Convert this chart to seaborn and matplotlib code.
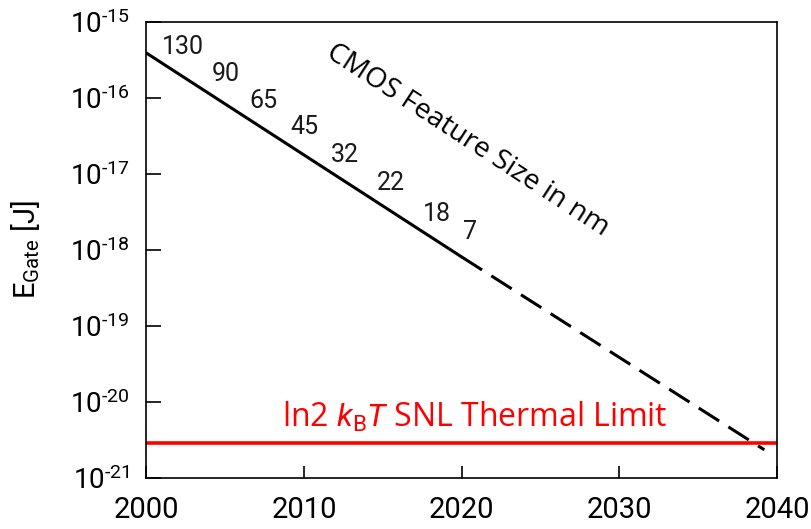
import numpy as np
import pandas as pd
import seaborn as sns
import matplotlib.pyplot as plt
from matplotlib.ticker import FuncFormatter

# dados
years_solid = [2000, 2020]
energy_solid = [3.9e-16, 8.1e-19]
years_dash = [2020, 2039.2]
energy_dash = [8.1e-19, 2.35e-21]
thermal_limit = 2.9e-21

node_labels = ["130", "90", "65", "45", "32", "22", "18", "7"]
node_years = [2002.3, 2005.0, 2007.4, 2010.0, 2012.6, 2015.5, 2018.4, 2020.5]
node_energy = [4.7e-16, 2.1e-16, 9.1e-17, 4.1e-17, 1.8e-17, 7.6e-18, 2.95e-18, 1.7e-18]

x_ticks = [2000, 2010, 2020, 2030, 2040]
y_ticks = [1e-21, 1e-20, 1e-19, 1e-18, 1e-17, 1e-16, 1e-15]

sns.set_style("ticks")
plt.rcParams['font.family'] = ['Roboto', 'DejaVu Sans']
plt.rcParams['mathtext.fontset'] = 'custom'
plt.rcParams['mathtext.rm'] = 'Roboto'
plt.rcParams['mathtext.it'] = 'Roboto:italic'
plt.rcParams['mathtext.default'] = 'regular'
plt.rcParams['axes.unicode_minus'] = False

df_solid = pd.DataFrame({"ano": years_solid, "E": energy_solid})
df_dash = pd.DataFrame({"ano": years_dash, "E": energy_dash})

fig = plt.figure(figsize=(8.11, 5.29), dpi=100)
ax = fig.add_axes([0.1806, 0.0964, 0.7774, 0.8620])

sns.lineplot(data=df_solid, x="ano", y="E", color="black", linewidth=2.2, ax=ax)
sns.lineplot(data=df_dash, x="ano", y="E", color="black", linewidth=2.2,
             linestyle=(0, (7.9, 3.6)), ax=ax)
ax.axhline(thermal_limit, color="#ff0000", linewidth=2.6)

ax.set_yscale("log")
ax.set_xlim(2000, 2040)
ax.set_ylim(1e-21, 1e-15)
ax.set_xticks(x_ticks)
ax.set_yticks(y_ticks)
ax.minorticks_off()

# expoente com hífen curto, como no original
ax.yaxis.set_major_formatter(FuncFormatter(
    lambda v, pos: r"$10^{\text{%d}}$" % int(round(np.log10(v)))))

# tamanhos de nó CMOS ao longo da linha
for lab, xv, yv in zip(node_labels, node_years, node_energy):
    ax.text(xv, yv, lab, fontsize=18, ha="center", va="center", color="#1a1a1a")

ax.text(2020.4, 2.8e-17, "CMOS Feature Size in nm", fontsize=20.3, family="Open Sans",
        color="black", rotation=-33, rotation_mode="anchor", ha="center", va="center")

ax.text(2020.84, 4.8e-21, r"ln2 $\mathit{k}_{\mathrm{B}}\mathit{T}$ SNL Thermal Limit",
        fontsize=23, family="Open Sans", color="#ff0000", ha="center", va="baseline")

ax.set_xlabel("")
ax.set_ylabel(r"E$_{\mathrm{Gate}}$ [J]", fontsize=21, color="black")
ax.yaxis.set_label_coords(-0.166, 0.5)

ax.tick_params(axis="both", direction="in", width=1.2, colors="black")
ax.tick_params(axis="x", length=9, pad=13, labelsize=21)
ax.tick_params(axis="y", length=11, pad=12, labelsize=20)
for s in ax.spines.values():
    s.set_linewidth(1.2)
    s.set_color("black")

fig.savefig("out.png", dpi=100)
